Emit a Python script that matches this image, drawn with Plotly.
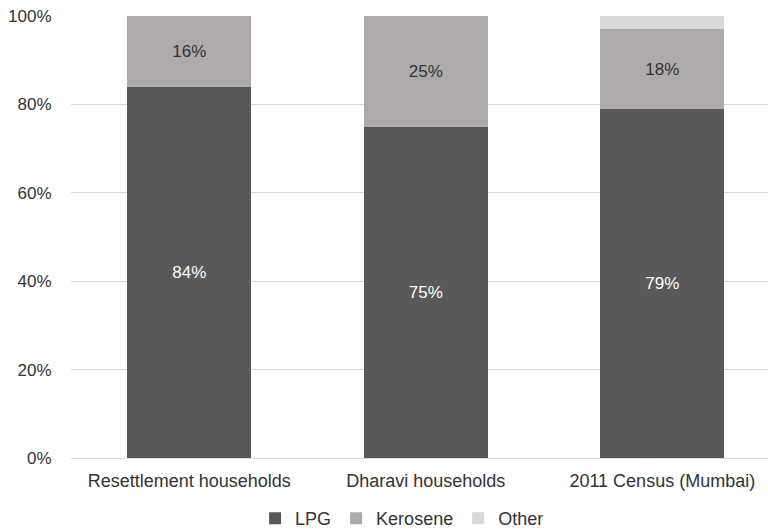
import plotly.graph_objects as go

categories = ["Resettlement households", "Dharavi households", "2011 Census (Mumbai)"]
lpg = [84, 75, 79]
kerosene = [16, 25, 18]
other = [0, 0, 3]

FONT = "Liberation Sans, Arial, sans-serif"
TEXT = "#333333"

series = [
    ("LPG", lpg, "#595959", "white", True),
    ("Kerosene", kerosene, "#AEAAAA", TEXT, True),
    ("Other", other, "#D9D9D9", TEXT, False),
]

fig = go.Figure()
for name, vals, color, tcolor, labelled in series:
    fig.add_trace(go.Bar(
        name=name,
        x=categories,
        y=vals,
        width=0.525,
        marker=dict(color=color, line=dict(width=0)),
        text=[f"{v}%" for v in vals] if labelled else None,
        textposition="inside" if labelled else "none",
        insidetextanchor="middle",
        textangle=0,
        textfont=dict(color=tcolor, size=17, family=FONT),
        hoverinfo="skip",
    ))

fig.update_layout(
    barmode="stack",
    width=768,
    height=532,
    margin=dict(l=71, r=0, t=16, b=73.5, autoexpand=False),
    paper_bgcolor="white",
    plot_bgcolor="white",
    font=dict(family=FONT, size=17, color=TEXT),
    xaxis=dict(
        range=[-0.5, 2.447],
        showgrid=False,
        showline=False,
        ticks="outside",
        ticklen=6,
        tickcolor="rgba(0,0,0,0)",
        tickfont=dict(size=18, color=TEXT),
    ),
    yaxis=dict(
        range=[0, 100],
        tickvals=[0, 20, 40, 60, 80, 100],
        ticktext=["0%", "20%", "40%", "60%", "80%", "100%"],
        showgrid=True,
        gridcolor="#D9D9D9",
        gridwidth=1,
        zeroline=True,
        zerolinecolor="#D9D9D9",
        zerolinewidth=1,
        showline=False,
        ticks="outside",
        ticklen=15,
        tickcolor="rgba(0,0,0,0)",
        tickfont=dict(size=17, color=TEXT),
    ),
    legend=dict(
        orientation="h",
        x=0.475,
        xanchor="center",
        y=-0.137,
        yanchor="middle",
        font=dict(size=18, color=TEXT),
        itemwidth=30,
        traceorder="normal",
    ),
)

fig.write_html("out.html")
